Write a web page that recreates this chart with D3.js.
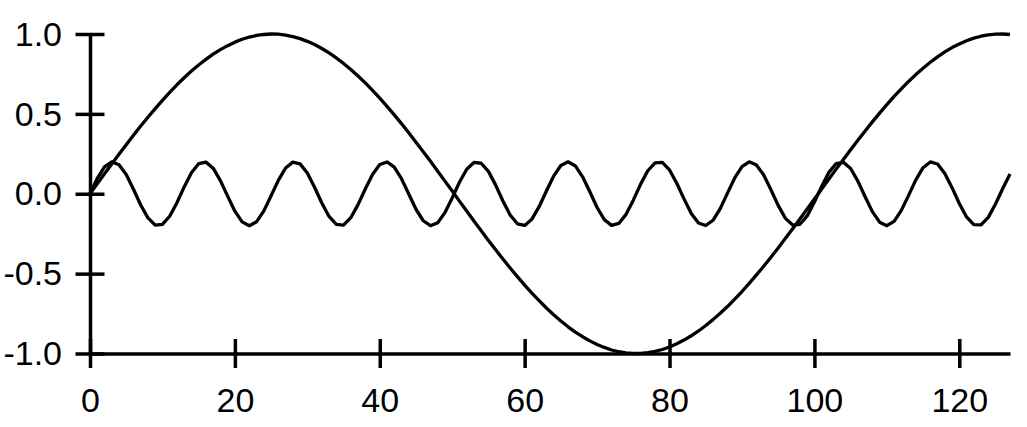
<!DOCTYPE html>
<html>
<head>
<meta charset="utf-8">
<script src="https://cdn.jsdelivr.net/npm/d3@7"></script>
<style>
  body { margin: 0; background: #fff; }
  svg { display: block; }
  .axis text { font-family: "Liberation Sans", Arial, Helvetica, sans-serif; font-size: 34px; fill: #000; }
  .axis line, .axis path { stroke: #000; stroke-width: 3.5; }
  .curve { fill: none; stroke: #000; stroke-width: 3.3; stroke-linejoin: round; }
</style>
</head>
<body>
<div id="chart"></div>
<script>
// slow wave, one sample per x step (x = 0..127)
var slow = [
  0, 0.062, 0.125, 0.186, 0.247, 0.307, 0.366, 0.424, 0.479, 0.533,
  0.585, 0.635, 0.682, 0.726, 0.768, 0.806, 0.841, 0.874, 0.902, 0.927,
  0.949, 0.967, 0.981, 0.991, 0.997, 1.000, 0.999, 0.993, 0.984, 0.971,
  0.954, 0.934, 0.909, 0.882, 0.850, 0.816, 0.778, 0.737, 0.694, 0.647,
  0.598, 0.547, 0.494, 0.439, 0.382, 0.323, 0.263, 0.203, 0.141, 0.079,
  0.017, -0.046, -0.108, -0.170, -0.231, -0.292, -0.351, -0.409, -0.465, -0.519,
  -0.572, -0.622, -0.669, -0.715, -0.757, -0.796, -0.833, -0.866, -0.895, -0.921,
  -0.944, -0.962, -0.978, -0.989, -0.996, -1.000, -0.999, -0.995, -0.987, -0.975,
  -0.959, -0.939, -0.916, -0.889, -0.859, -0.825, -0.788, -0.748, -0.706, -0.660,
  -0.612, -0.561, -0.508, -0.454, -0.397, -0.339, -0.279, -0.219, -0.158, -0.096,
  -0.033, 0.029, 0.092, 0.154, 0.215, 0.276, 0.335, 0.393, 0.450, 0.505,
  0.558, 0.609, 0.657, 0.703, 0.746, 0.786, 0.823, 0.857, 0.888, 0.915,
  0.938, 0.958, 0.974, 0.986, 0.995, 0.999, 1.000, 0.997
]

// fast wave, same x steps
var fast = [
  0, 0.096, 0.168, 0.200, 0.182, 0.120, 0.028, -0.070, -0.151, -0.196,
  -0.192, -0.141, -0.056, 0.043, 0.131, 0.188, 0.198, 0.160, 0.082, -0.015,
  -0.109, -0.176, -0.200, -0.175, -0.107, -0.013, 0.084, 0.161, 0.198, 0.187,
  0.130, 0.041, -0.058, -0.142, -0.192, -0.196, -0.150, -0.068, 0.030, 0.121,
  0.183, 0.199, 0.167, 0.094, -0.002, -0.097, -0.169, -0.200, -0.181, -0.118,
  -0.026, 0.072, 0.153, 0.196, 0.191, 0.140, 0.054, -0.045, -0.133, -0.188,
  -0.198, -0.159, -0.081, 0.017, 0.110, 0.177, 0.200, 0.174, 0.106, 0.012,
  -0.086, -0.162, -0.198, -0.186, -0.129, -0.040, 0.059, 0.144, 0.193, 0.196,
  0.149, 0.066, -0.032, -0.123, -0.183, -0.199, -0.166, -0.093, 0.004, 0.099,
  0.170, 0.200, 0.180, 0.117, 0.025, -0.073, -0.154, -0.196, -0.191, -0.139,
  -0.052, 0.046, 0.134, 0.189, 0.197, 0.158, 0.079, -0.019, -0.112, -0.178,
  -0.200, -0.173, -0.104, -0.010, 0.087, 0.163, 0.199, 0.186, 0.127, 0.038,
  -0.061, -0.145, -0.193, -0.195, -0.148, -0.064, 0.033, 0.124
]

var xTicks = [0, 20, 40, 60, 80, 100, 120]
var yTicks = [-1, -0.5, 0, 0.5, 1]
var xMax = 127

var width = 1027, height = 427
var margin = { left: 90, right: 17, top: 34, bottom: 73.5 }
var tickHalf = 14.5

var svg = d3.select("#chart").append("svg")
  .attr("width", width)
  .attr("height", height)

var x = d3.scaleLinear()
  .domain([0, xMax])
  .range([margin.left, width - margin.right])

var y = d3.scaleLinear()
  .domain([-1, 1])
  .range([height - margin.bottom, margin.top])

// y axis, ticks cross the line
var yAxis = svg.append("g")
  .attr("class", "axis y_axis")
  .attr("transform", "translate(" + x(0) + ",0)")
  .call(d3.axisLeft(y).tickValues(yTicks).tickFormat(d3.format(".1f")).tickSizeOuter(0))
yAxis.selectAll(".tick line").attr("x1", tickHalf).attr("x2", -tickHalf)
yAxis.selectAll(".tick text")
  .attr("x", -28)
  .attr("dy", "0.33em")
  .text(function(d) { return d3.format(".1f")(d).replace("−", "-") })
yAxis.select(".domain").attr("stroke-linecap", "butt")

// x axis
var xAxis = svg.append("g")
  .attr("class", "axis x_axis")
  .attr("transform", "translate(0," + y(-1) + ")")
  .call(d3.axisBottom(x).tickValues(xTicks).tickSizeOuter(0))
xAxis.selectAll(".tick line").attr("y1", -tickHalf).attr("y2", tickHalf)
xAxis.selectAll(".tick text")
  .attr("y", 58)
  .attr("dy", 0)

svg.selectAll(".axis").attr("font-size", null).attr("font-family", null)

var line = d3.line()
  .x(function(d, i) { return x(i) })
  .y(function(d) { return y(d) })

svg.append("path")
  .datum(slow)
  .attr("class", "curve slow")
  .attr("d", line)

svg.append("path")
  .datum(fast)
  .attr("class", "curve fast")
  .attr("d", line)
</script>
</body>
</html>
